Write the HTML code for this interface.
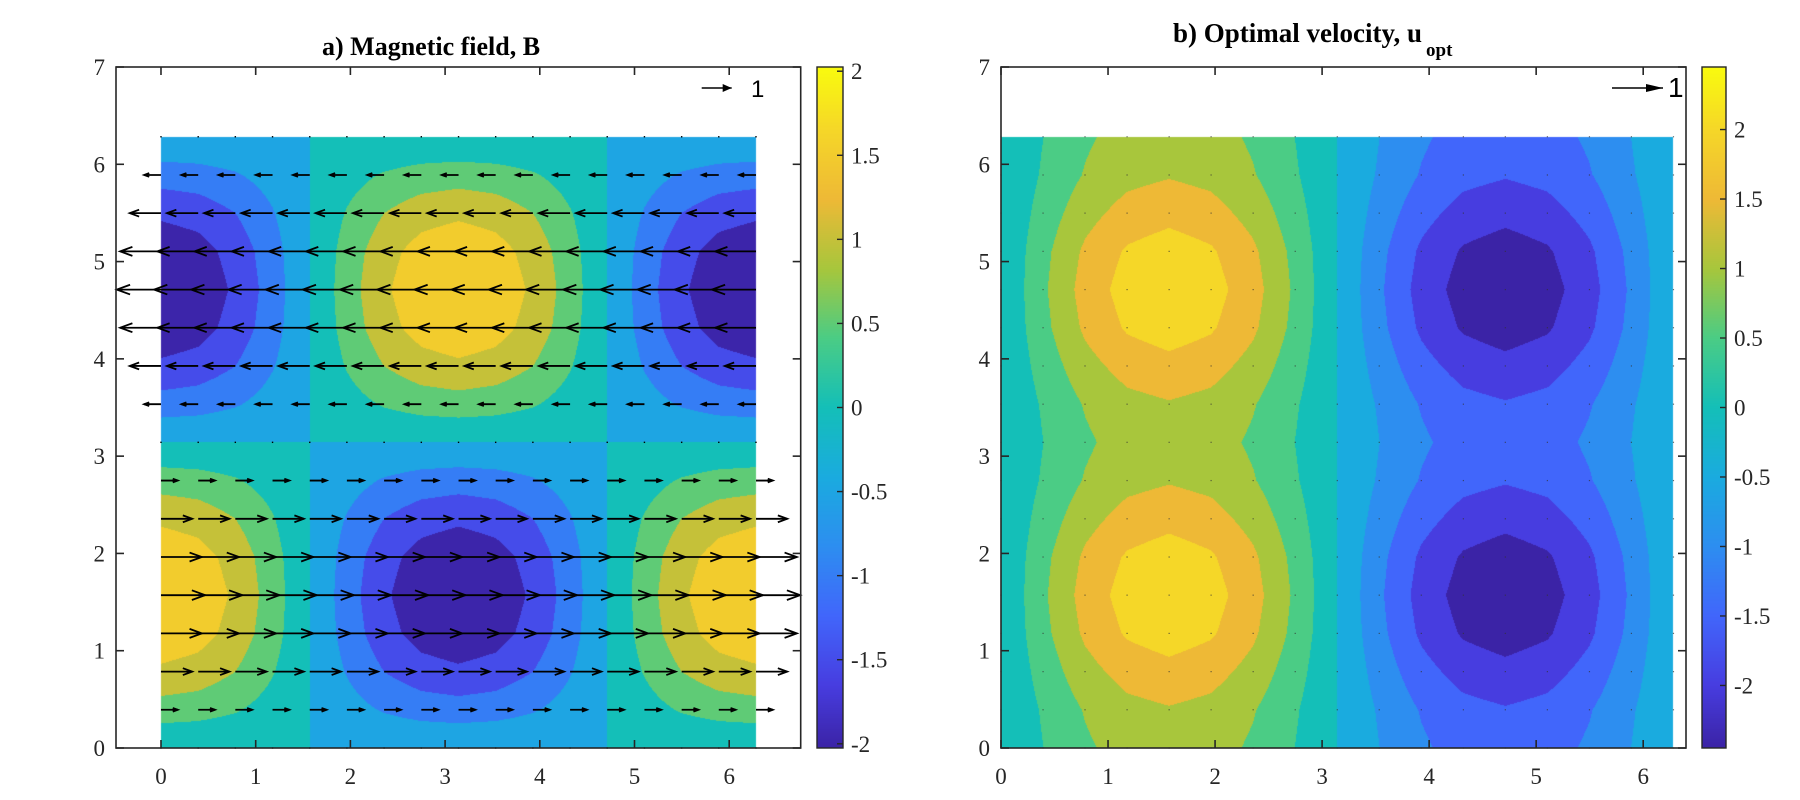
<!DOCTYPE html>
<html>
<head>
<meta charset="utf-8">
<style>
  html,body{margin:0;padding:0;background:#fff;}
  #wrap{position:relative;width:1800px;height:800px;overflow:hidden;background:#fff;}
  canvas{position:absolute;left:0;top:0;}
  svg{position:absolute;left:0;top:0;}
</style>
</head>
<body>
<div id="wrap">
  <canvas id="cv" width="1800" height="800"></canvas>
  <svg id="sv" width="1800" height="800" xmlns="http://www.w3.org/2000/svg"></svg>
</div>
<script>
// ---------- data ----------
const gridX = [0,0.393,0.785,1.178,1.571,1.963,2.356,2.749,3.142,3.534,3.927,4.320,4.712,5.105,5.498,5.890,6.283];
const gridY = [0,0.393,0.785,1.178,1.571,1.963,2.356,2.749,3.142,3.534,3.927,4.320,4.712,5.105,5.498,5.890,6.283];
// panel a: magnetic field B = bRow[j] * bCol[i]
const bCol = [1,0.92,0.71,0.38,0,-0.38,-0.71,-0.92,-1,-0.92,-0.71,-0.38,0,0.38,0.71,0.92,1];
const bRow = [0,0.77,1.41,1.85,2,1.85,1.41,0.77,0,-0.77,-1.41,-1.85,-2,-1.85,-1.41,-0.77,0];
// quiver horizontal component per row
const qRow = [0,0.56,1.04,1.36,1.47,1.36,1.04,0.56,0,-0.56,-1.04,-1.36,-1.47,-1.36,-1.04,-0.56,0];
// panel b: optimal velocity u = uRow[j] * uCol[i]
const uCol = [0,0.38,0.71,0.92,1,0.92,0.71,0.38,0,-0.38,-0.71,-0.92,-1,-0.92,-0.71,-0.38,0];
const uRow = [1.3,1.46,1.85,2.24,2.4,2.24,1.85,1.46,1.3,1.46,1.85,2.24,2.4,2.24,1.85,1.46,1.3];
const levelsA = [-2,-1.5,-1,-0.5,0,0.5,1,1.5];
const levelsB = [-2.5,-2,-1.5,-1,-0.5,0,0.5,1,1.5,2];
const axisTicks = [0,1,2,3,4,5,6,7];
const xTicksA = [0,1,2,3,4,5,6];
const xTicksB = [0,1,2,3,4,5,6];
const cbTicksA = [-2,-1.5,-1,-0.5,0,0.5,1,1.5,2];
const cbTicksB = [-2,-1.5,-1,-0.5,0,0.5,1,1.5,2];

// ---------- colormap (parula-like) ----------
const cmT = [0,0.092,0.194,0.296,0.398,0.5,0.602,0.704,0.806,0.908,1];
const cmC = [[59,35,166],[71,61,224],[65,102,251],[45,142,240],[26,171,223],[20,191,184],[75,204,133],[168,198,60],[238,185,54],[245,215,40],[249,251,14]];
function cmap(t){
  t=Math.max(0,Math.min(1,t));
  for(let k=0;k<cmT.length-1;k++){
    if(t<=cmT[k+1]){const f=(t-cmT[k])/(cmT[k+1]-cmT[k]);
      return cmC[k].map((c,m)=>Math.round(c+(cmC[k+1][m]-c)*f));}
  }
  return cmC[cmC.length-1];
}

// ---------- panels ----------
const panels = [
  {name:'a', x0:116, x1:800.7, y0:67, y1:748, xmin:-0.475, xmax:6.755, ymin:0, ymax:7,
   col:bCol,row:bRow,levels:levelsA,cmin:-2.025,cmax:2.025,xt:xTicksA,
   cb:{x:817,w:26,ticks:cbTicksA}},
  {name:'b', x0:1001, x1:1686, y0:67, y1:748, xmin:0, xmax:6.40, ymin:0, ymax:7,
   col:uCol,row:uRow,levels:levelsB,cmin:-2.45,cmax:2.45,xt:xTicksB,
   cb:{x:1702,w:24,ticks:cbTicksB}}
];
panels.forEach(p=>{
  p.sx=v=>p.x0+(v-p.xmin)/(p.xmax-p.xmin)*(p.x1-p.x0);
  p.sy=v=>p.y1-(v-p.ymin)/(p.ymax-p.ymin)*(p.y1-p.y0);
  p.cy=v=>p.y1-(v-p.cmin)/(p.cmax-p.cmin)*(p.y1-p.y0);
});

function fieldVal(p,gx,gy){
  const n=gridX.length-1, step=gridX[n]/n;
  let fi=gx/step, fj=gy/step;
  let i=Math.min(n-1,Math.max(0,Math.floor(fi))), j=Math.min(n-1,Math.max(0,Math.floor(fj)));
  const a=fi-i, b=fj-j;
  const z=(ii,jj)=>p.row[jj]*p.col[ii];
  return (1-a)*(1-b)*z(i,j)+a*(1-b)*z(i+1,j)+(1-a)*b*z(i,j+1)+a*b*z(i+1,j+1);
}
function levelColor(p,v){
  let L=p.levels[0];
  for(const l of p.levels){ if(v>=l-1e-9) L=l; }
  return cmap((L-p.cmin)/(p.cmax-p.cmin));
}

const cv=document.getElementById('cv'); const ctx=cv.getContext('2d');
const img=ctx.createImageData(1800,800);
panels.forEach(p=>{
  const X0=Math.round(p.sx(gridX[0])), X1=Math.round(p.sx(gridX[gridX.length-1]));
  const Y0=Math.round(p.sy(gridY[gridY.length-1])), Y1=Math.round(p.sy(gridY[0]));
  for(let py=Y0;py<Y1;py++){
    const gy=p.ymin+(p.y1-(py+0.5))/(p.y1-p.y0)*(p.ymax-p.ymin);
    for(let px=X0;px<X1;px++){
      const gx=p.xmin+((px+0.5)-p.x0)/(p.x1-p.x0)*(p.xmax-p.xmin);
      const c=levelColor(p,fieldVal(p,gx,gy));
      const k=(py*1800+px)*4; img.data[k]=c[0];img.data[k+1]=c[1];img.data[k+2]=c[2];img.data[k+3]=255;
    }
  }
  // colorbar (continuous)
  for(let py=p.y0;py<p.y1;py++){
    const v=p.cmin+(p.y1-(py+0.5))/(p.y1-p.y0)*(p.cmax-p.cmin);
    const c=cmap((v-p.cmin)/(p.cmax-p.cmin));
    for(let px=p.cb.x;px<p.cb.x+p.cb.w;px++){
      const k=(py*1800+px)*4; img.data[k]=c[0];img.data[k+1]=c[1];img.data[k+2]=c[2];img.data[k+3]=255;
    }
  }
});
// white background elsewhere
for(let k=0;k<img.data.length;k+=4){ if(img.data[k+3]===0){img.data[k]=255;img.data[k+1]=255;img.data[k+2]=255;img.data[k+3]=255;} }
ctx.putImageData(img,0,0);

// ---------- SVG overlay ----------
const NS='http://www.w3.org/2000/svg';
const sv=document.getElementById('sv');
function mk(tag,attrs,parent){const e=document.createElementNS(NS,tag);for(const k in attrs)e.setAttribute(k,attrs[k]);(parent||sv).appendChild(e);return e;}
const AX='#262626';

// quiver arrows panel a
const pa=panels[0];
const qg=mk('g',{});


const qScale=0.317; // data units per unit magnitude
function arrow(g,x1,y1,x2,y2,w){
  const dx=x2-x1, L=Math.abs(dx); if(L<0.5) return;
  const s=Math.sign(dx);
  mk('line',{x1:x1,y1:y1,x2:x2,y2:y2,stroke:'#000','stroke-width':w},g);
  const hb=0.3*L, hw=0.11*L;
  mk('polyline',{points:`${x2-s*hb},${y2-hw} ${x2},${y2} ${x2-s*hb},${y2+hw}`,fill:'none',stroke:'#000','stroke-width':w},g);
}
qRow.forEach((q,j)=>{
  gridX.forEach((gx,i)=>{
    const x1=pa.sx(gx), y=pa.sy(gridY[j]), x2=pa.sx(gx+q*qScale);
    if(Math.abs(q)<1e-6){
      const d=mk('rect',{x:x1-0.7,y:y-0.7,width:1.4,height:1.4,fill:'#000'},qg);
      
      
    } else {
      const g=mk('g',{},qg);
      
      
      arrow(g,x1,y,x2,y,1.8);
    }
  });
});
// tiny dots panel b
const pb=panels[1];
const dg=mk('g',{});


gridY.forEach((gy,j)=>{gridX.forEach((gx,i)=>{
  mk('rect',{x:pb.sx(gx)-0.6,y:pb.sy(gy)-0.6,width:1.2,height:1.2,fill:'#333','fill-opacity':0.7},dg);
});});

// axes
panels.forEach((p,pi)=>{
  const g=mk('g',{});
  
  
  mk('rect',{x:p.x0,y:p.y0,width:p.x1-p.x0,height:p.y1-p.y0,fill:'none',stroke:AX,'stroke-width':1.6},g);
  p.xt.forEach(t=>{
    const x=p.sx(t);
    mk('line',{x1:x,y1:p.y1,x2:x,y2:p.y1-8,stroke:AX,'stroke-width':1.6},g);
    mk('line',{x1:x,y1:p.y0,x2:x,y2:p.y0+8,stroke:AX,'stroke-width':1.6},g);
    const tx=mk('text',{x:x,y:784,'text-anchor':'middle','font-family':'Liberation Serif, serif','font-size':23,fill:'#262626'},g);
    tx.textContent=t;
    
    
  });
  axisTicks.forEach(t=>{
    const y=p.sy(t);
    mk('line',{x1:p.x0,y1:y,x2:p.x0+8,y2:y,stroke:AX,'stroke-width':1.6},g);
    mk('line',{x1:p.x1,y1:y,x2:p.x1-8,y2:y,stroke:AX,'stroke-width':1.6},g);
    const tx=mk('text',{x:p.x0-11,y:y+8,'text-anchor':'end','font-family':'Liberation Serif, serif','font-size':23,fill:'#262626'},g);
    tx.textContent=t;
    
    
  });
  // colorbar
  const cg=mk('g',{});
  
  
  mk('rect',{x:p.cb.x,y:p.y0,width:p.cb.w,height:p.y1-p.y0,fill:'none',stroke:AX,'stroke-width':1.4},cg);
  p.cb.ticks.forEach(t=>{
    const y=p.cy(t);
    mk('line',{x1:p.cb.x+p.cb.w,y1:y,x2:p.cb.x+p.cb.w-6,y2:y,stroke:AX,'stroke-width':1.4},cg);
    const tx=mk('text',{x:p.cb.x+p.cb.w+8,y:y+8,'font-family':'Liberation Serif, serif','font-size':23,fill:'#262626'},cg);
    tx.textContent=t;
    
    
  });
});

// quiver scale legends
[[701.7,731.7,751],[1612,1663,1668]].forEach((a,k)=>{
  const g=mk('g',{});
  
  
  mk('line',{x1:a[0],y1:88,x2:a[1],y2:88,stroke:'#000','stroke-width':1.6},g);
  mk('polygon',{points:`${a[1]-(k?17:9)},${84} ${a[1]},88 ${a[1]-(k?17:9)},${92}`,fill:'#000'},g);
  const t=mk('text',{x:a[2],y:97,'font-family':'Liberation Sans, sans-serif','font-size':k?28:24,fill:'#000'},g);
  t.textContent='1';
});

// titles
const t1=mk('text',{x:322,y:55,'font-family':'Liberation Serif, serif','font-size':26,'font-weight':'bold',fill:'#000'});
t1.textContent='a) Magnetic field, B';


const t2=mk('text',{x:1173,y:42,'font-family':'Liberation Serif, serif','font-size':27,'font-weight':'bold',fill:'#000'});


t2.appendChild(document.createTextNode('b) Optimal velocity, u'));
const sub=document.createElementNS(NS,'tspan');
sub.setAttribute('dy','14');sub.setAttribute('dx','4');sub.setAttribute('font-size','19');
sub.textContent='opt';
t2.appendChild(sub);
</script>
</body>
</html>
